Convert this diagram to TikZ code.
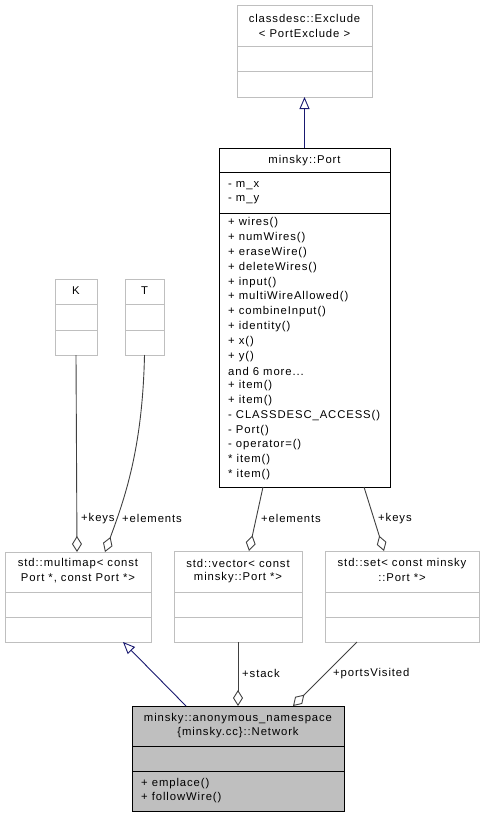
\documentclass[tikz,border=0pt]{standalone}
\usepackage{fontspec}
\setmainfont{Liberation Sans}[LetterSpace=8]
\usetikzlibrary{arrows.meta}
\definecolor{boxgray}{HTML}{BFBFBF}
\definecolor{edgegray}{HTML}{404040}
\definecolor{inhblue}{HTML}{191970}
\newcommand\mytdots{...}
\begin{document}
\begin{tikzpicture}[x=1pt,y=-1pt,
  font=\fontsize{11.3}{13}\selectfont,
  cls/.style={draw=boxgray, line width=1pt, inner sep=0pt, outer sep=0pt, anchor=north west},
  curcls/.style={cls, draw=black, fill=boxgray},
  doccls/.style={cls, draw=black},
  divg/.style={draw=boxgray, line width=1pt},
  divb/.style={draw=black, line width=1pt},
  txt/.style={inner sep=0pt, anchor=center},
  mem/.style={inner sep=0pt, anchor=west},
  lbl/.style={inner sep=0pt, anchor=west},
  usage/.style={draw=edgegray, line width=0.9pt, -{Diamond[open, length=16pt, width=10pt, line width=0.9pt]}},
  inh/.style={draw=inhblue, line width=0.9pt, -{Triangle[open, length=12pt, width=10pt, line width=0.9pt]}},
]
\useasboundingbox (0,0) rectangle (484,817);

% classdesc::Exclude
\node[cls, minimum width=135pt, minimum height=92pt] (excl) at (237,5) {};
\draw[divg] (237,46) -- (372,46);
\draw[divg] (237,71) -- (372,71);
\node[txt] (exclt1) at (304.5,18) {classdesc::Exclude};
\node[txt] (exclt2) at (304.5,33) {< PortExclude >};

% minsky::Port
\node[doccls, minimum width=171pt, minimum height=339pt] (port) at (219,148) {};
\draw[divb] (219,172.5) -- (390,172.5);
\draw[divb] (219,213) -- (390,213);
\node[txt] (portt) at (304.5,161) {minsky::Port};
\node[mem] (pa1) at (228,185.5) {- m\_x};
\node[mem] (pa2) at (228,200) {- m\_y};
\foreach \t [count=\i from 0] in {+ wires(), + numWires(), + eraseWire(), + deleteWires(), + input(), + multiWireAllowed(), + combineInput(), + identity(), + x(), + y(), and 6 more\mytdots, + item(), + item(), - CLASSDESC\_ACCESS(), - Port(), - operator=(), * item(), * item()}
  \node[mem] (pm\i) at (228,{223+\i*14.8}) {\t};

% K and T
\node[cls, minimum width=42pt, minimum height=76pt] (K) at (55,279) {};
\draw[divg] (55,304) -- (97,304);
\draw[divg] (55,330) -- (97,330);
\node[txt] (Kt) at (76,291) {K};
\node[cls, minimum width=39pt, minimum height=76pt] (T) at (125,279) {};
\draw[divg] (125,304) -- (164,304);
\draw[divg] (125,330) -- (164,330);
\node[txt] (Tt) at (144.5,291) {T};

% std::multimap
\node[cls, minimum width=146pt, minimum height=90pt] (mmap) at (5,552) {};
\draw[divg] (5,592) -- (151,592);
\draw[divg] (5,617) -- (151,617);
\node[txt] (mmapt1) at (78,563.5) {std::multimap< const};
\node[txt] (mmapt2) at (78,578) {Port *, const Port *>};

% std::vector
\node[cls, minimum width=128pt, minimum height=91pt] (vec) at (174,551) {};
\draw[divg] (174,592) -- (302,592);
\draw[divg] (174,617) -- (302,617);
\node[txt] (vect1) at (238,563.5) {std::vector< const};
\node[txt] (vect2) at (238,578) {minsky::Port *>};

% std::set
\node[cls, minimum width=154pt, minimum height=91pt] (set) at (325,551) {};
\draw[divg] (325,592) -- (479,592);
\draw[divg] (325,617) -- (479,617);
\node[txt] (sett1) at (402,563.5) {std::set< const minsky};
\node[txt] (sett2) at (402,578) {::Port *>};

% Network
\node[curcls, minimum width=212pt, minimum height=105pt] (net) at (132,706) {};
\draw[divb] (132,746) -- (344,746);
\draw[divb] (132,771) -- (344,771);
\node[txt] (nett1) at (238,718.5) {minsky::anonymous\_namespace};
\node[txt] (nett2) at (238,733) {\{minsky.cc\}::Network};
\node[mem] (netm1) at (141,783.5) {+ emplace()};
\node[mem] (netm2) at (141,798) {+ followWire()};

% connectors
\draw[inh] (port.north) -- (excl.south);
\draw[inh] ([xshift=-52pt]net.north) -- ([xshift=45pt]mmap.south);
\draw[usage] (K.south) -- ([xshift=-1pt]mmap.north);
\draw[usage] (T.south) .. controls ([xshift=-2pt,yshift=-95pt]T.south) and ([xshift=46pt,yshift=52pt]mmap.north) .. ([xshift=27pt]mmap.north);
\draw[usage] ([xshift=-41.5pt]port.south) -- ([xshift=11pt]vec.north);
\draw[usage] ([xshift=59.5pt]port.south) -- ([xshift=-18pt]set.north);
\draw[usage] (vec.south) -- (net.north);
\draw[usage] ([xshift=-45pt]set.south) -- ([xshift=55pt]net.north);

% labels
\node[lbl] (lk1) at (81,518.5) {+keys};
\node[lbl] (le1) at (122,518.5) {+elements};
\node[lbl] (le2) at (261,518.5) {+elements};
\node[lbl] (lk2) at (378,518.5) {+keys};
\node[lbl] (ls) at (242,673.5) {+stack};
\node[lbl] (lp) at (333,673.5) {+portsVisited};
\end{tikzpicture}
\end{document}
